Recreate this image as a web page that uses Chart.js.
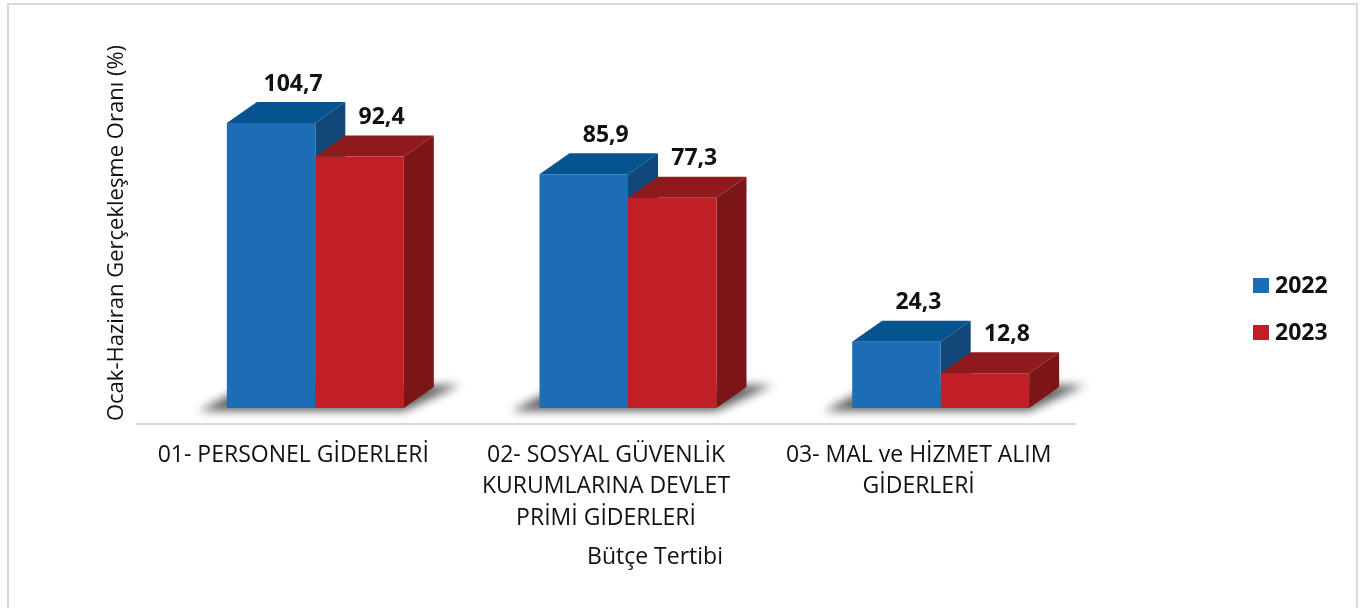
<!DOCTYPE html>
<html lang="tr">
<head>
<meta charset="utf-8">
<title>Bütçe Tertibi – Ocak-Haziran Gerçekleşme Oranı (%)</title>
<script src="https://cdn.jsdelivr.net/npm/chart.js@4.4.1/dist/chart.umd.min.js"></script>
<style>
  html, body { margin: 0; padding: 0; background: #fff; overflow: hidden; width: 1371px; height: 608px; }
  #frame { position: absolute; left: 7px; top: 3px; width: 1347px; height: 640px; border: 2px solid #d9d9d9; }
  #wrap { position: absolute; left: 0; top: 0; width: 1371px; height: 608px; }
</style>
</head>
<body>
<div id="frame"></div>
<div id="wrap"><canvas id="chart" width="1371" height="608"></canvas></div>
<script>
// Budget items (multi-line tick labels)
const categories = [
  ['01- PERSONEL GİDERLERİ'],
  ['02- SOSYAL GÜVENLİK', 'KURUMLARINA DEVLET', 'PRİMİ GİDERLERİ'],
  ['03- MAL ve HİZMET ALIM', 'GİDERLERİ']
];
const seriesNames = ['2022', '2023'];
const values2022 = [104.7, 85.9, 24.3];
const values2023 = [92.4, 77.3, 12.8];
const yAxisTitle = 'Ocak-Haziran Gerçekleşme Oranı (%)';
const xAxisTitle = 'Bütçe Tertibi';

const FONT = "'Open Sans', 'Noto Sans', sans-serif";
const TEXT = '#111111';

// colours of the three visible faces of each box
const palette = [
  { front: '#1d6db6', top: '#06548f', side: '#104879' },
  { front: '#c01f26', top: '#8f1a1d', side: '#7b1517' }
];

// how the boxes are pushed back into the floor and how deep they are
const BOX = { shiftX: 22, shiftY: -16, depthX: 30, depthY: -21 };

const fmt = v => v.toFixed(1).replace('.', ',');

function poly(ctx, pts, color) {
  ctx.beginPath();
  ctx.moveTo(pts[0][0], pts[0][1]);
  for (let k = 1; k < pts.length; k++) ctx.lineTo(pts[k][0], pts[k][1]);
  ctx.closePath();
  ctx.fillStyle = color;
  ctx.fill();
}

function barGeom(el) {
  const p = el.getProps(['x', 'y', 'base', 'width'], true);
  return { l: p.x - p.width / 2, r: p.x + p.width / 2, t: p.y, b: p.base, cx: p.x };
}

const boxes3d = {
  id: 'boxes3d',
  beforeDatasetsDraw(chart) {
    const ctx = chart.ctx;
    const metas = chart.data.datasets.map((d, i) => chart.getDatasetMeta(i));
    const n = chart.data.labels.length;
    ctx.save();
    ctx.translate(BOX.shiftX, BOX.shiftY);

    // soft shadow on the floor under each group
    for (let j = 0; j < n; j++) {
      const a = barGeom(metas[0].data[j]);
      const z = barGeom(metas[metas.length - 1].data[j]);
      ctx.save();
      ctx.filter = 'blur(5px)';
      poly(ctx, [
        [a.l - 28, a.b + 3],
        [z.r, a.b + 3],
        [z.r + BOX.depthX + 26, a.b + BOX.depthY - 2],
        [a.l + BOX.depthX - 12, a.b + BOX.depthY]
      ], 'rgba(0,0,0,0.62)');
      ctx.restore();
    }

    // top and side faces; the front faces are the bars themselves
    for (let j = 0; j < n; j++) {
      metas.forEach((meta, i) => {
        const g = barGeom(meta.data[j]);
        const c = palette[i];
        poly(ctx, [[g.l, g.t], [g.r, g.t], [g.r + BOX.depthX, g.t + BOX.depthY], [g.l + BOX.depthX, g.t + BOX.depthY]], c.top);
        poly(ctx, [[g.r, g.t], [g.r + BOX.depthX, g.t + BOX.depthY], [g.r + BOX.depthX, g.b + BOX.depthY], [g.r, g.b]], c.side);
      });
    }
  },
  afterDatasetsDraw(chart) {
    const ctx = chart.ctx;
    // value labels above each box (still in the shifted frame)
    ctx.font = 'bold 23px ' + FONT;
    ctx.fillStyle = TEXT;
    ctx.textAlign = 'center';
    ctx.textBaseline = 'middle';
    chart.data.datasets.forEach((ds, i) => {
      chart.getDatasetMeta(i).data.forEach((el, j) => {
        const g = barGeom(el);
        ctx.fillText(fmt(ds.data[j]), g.cx + 22, g.t + BOX.depthY - 18);
      });
    });
    ctx.restore();
  },
  afterDraw(chart) {
    const ctx = chart.ctx;
    ctx.save();
    // y axis title
    ctx.font = '22px ' + FONT;
    ctx.fillStyle = TEXT;
    ctx.textAlign = 'center';
    ctx.textBaseline = 'middle';
    ctx.save();
    ctx.translate(117, 233);
    ctx.rotate(-Math.PI / 2);
    ctx.fillText(yAxisTitle, 0, 0);
    ctx.restore();
    // x axis title
    ctx.font = '23px ' + FONT;
    ctx.fillText(xAxisTitle, 655, 557);
    // legend
    ctx.font = 'bold 23px ' + FONT;
    ctx.textAlign = 'left';
    chart.data.datasets.forEach((ds, i) => {
      const cy = 285 + i * 47;
      ctx.fillStyle = ds.backgroundColor;
      ctx.fillRect(1253, cy - 7, 16, 15);
      ctx.fillStyle = TEXT;
      ctx.fillText(ds.label, 1275, cy + 1);
    });
    ctx.restore();
  }
};

new Chart(document.getElementById('chart'), {
  type: 'bar',
  data: {
    labels: categories,
    datasets: [
      { label: seriesNames[0], data: values2022, backgroundColor: palette[0].front },
      { label: seriesNames[1], data: values2023, backgroundColor: palette[1].front }
    ]
  },
  options: {
    responsive: false,
    devicePixelRatio: 1,
    animation: false,
    layout: { padding: { left: 137, right: 296, top: 43, bottom: 0 } },
    datasets: {
      bar: { categoryPercentage: 0.566, barPercentage: 1, borderWidth: 0, clip: false }
    },
    plugins: {
      legend: { display: false },
      tooltip: { enabled: false }
    },
    scales: {
      x: {
        grid: { display: false, drawTicks: false },
        border: { display: true, color: '#d9d9d9', width: 2 },
        ticks: {
          autoSkip: false,
          maxRotation: 0,
          minRotation: 0,
          padding: 16,
          color: TEXT,
          font: { family: FONT, size: 23, lineHeight: 1.36 }
        },
        afterFit(scale) { scale.height = 184; }
      },
      y: {
        display: false,
        min: 0,
        max: 140
      }
    }
  },
  plugins: [boxes3d]
});
</script>
</body>
</html>
